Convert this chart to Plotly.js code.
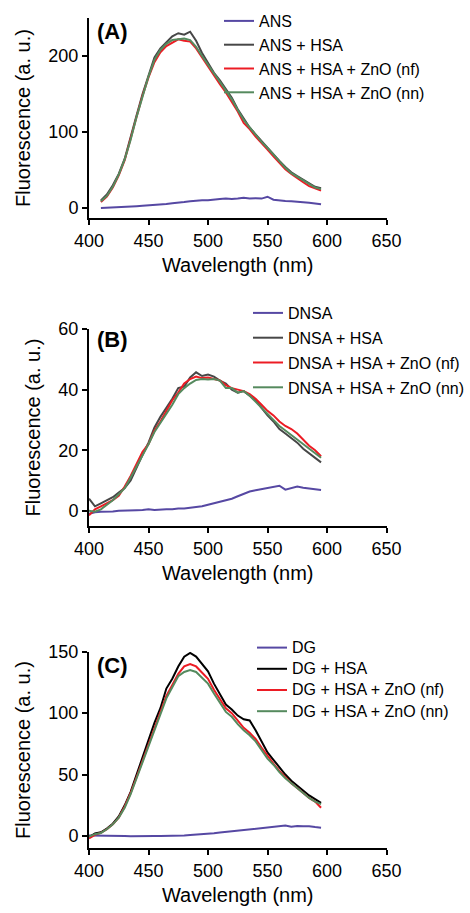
<!DOCTYPE html>
<html><head><meta charset="utf-8">
<script src="https://cdn.plot.ly/plotly-3.0.1.min.js"></script>
<style>html,body{margin:0;padding:0;background:#fff;}#chart{width:470px;height:913px;}</style>
</head><body><div id="chart"></div>
<script>
// Panel A: ANS (410-595 nm, 5 nm steps)
const wlA = [410,415,420,425,430,435,440,445,450,455,460,465,470,475,480,485,490,495,500,505,510,515,520,525,530,535,540,545,550,555,560,565,570,575,580,585,590,595];
const ans      = [0,0.3,0.5,1,1.5,2,2.5,3,3.5,4,4.5,5.5,6.5,7,8,9,10,10.5,10.5,11.5,12,12.5,12,12.5,13.5,12.5,13,12.5,15,11,10,9.5,9,8.5,7.5,7,6,5];
const ansHsa   = [10,18,30,45,65,92,122,150,175,198,210,218,226,230,228,232,220,204,190,178,168,156,145,130,118,106,97,88,80,71,62,54,47,42,37,32,28,26];
const ansHsaNf = [8,15,27,43,63,90,120,148,172,192,205,213,218,222,220,219,210,198,186,175,163,152,140,127,112,104,94,86,77,68,59,51,45,39,34,29,26,23];
const ansHsaNn = [9,16,28,44,64,90,120,148,173,195,208,216,221,222,223,221,212,200,188,177,166,154,143,129,116,106,96,87,79,70,61,53,46,41,36,31,27,25];

// Panel B: DNSA (400-595 nm)
const wlB = [400,405,410,415,420,425,430,435,440,445,450,455,460,465,470,475,480,485,490,495,500,505,510,515,520,525,530,535,540,545,550,555,560,565,570,575,580,585,590,595];
const dnsa      = [-1,-0.5,-0.3,-0.3,-0.2,0,0,0,0.2,0.3,0.5,0.3,0.5,0.5,0.5,0.8,0.8,1,1.2,1.5,2,2.5,3,3.5,4,4.8,5.5,6.4,6.8,7.2,7.5,8,8.3,7,7.5,8,7.6,7.4,7.2,6.9];
const dnsaHsa   = [4,1.5,2.5,3.5,4.5,6,7.5,10,14.5,18.5,22.5,27.5,31,34,37,40.5,41,44,45.7,44.5,45,44.3,43,42,40,39,39.5,38,36.5,34,31.5,29.5,27,25.5,24,22.5,20.5,19,17.5,16];
const dnsaHsaNf = [-1.5,0.5,1.5,2.5,3.5,5,8,11.5,15.5,19.5,22,26.5,29.5,33,36.5,39,42,43.5,44.3,43.8,44,43.5,43,41.5,40.5,40,39.5,38.5,37,35,33,31.5,29.5,28,27,25.5,23.5,21.5,20,18];
const dnsaHsaNn = [0,-0.3,0.5,2,3.5,5.5,7.5,11,14.5,18.5,22,26,29,32,35,38.5,40.5,42,43.2,43.5,43.3,43.5,43,40.5,40.5,39,39.5,38,36,34,32,30,28,26.5,25,23.5,22,20.5,19,17.5];

// Panel C: DG (400-595 nm)
const wlC = [400,405,410,415,420,425,430,435,440,445,450,455,460,465,470,475,480,485,490,495,500,505,510,515,520,525,530,535,540,545,550,555,560,565,570,575,580,585,590,595];
const dg      = [0.5,0.5,0.3,0.2,0,0,0,-0.2,0,0,0,0,0,0,0,0.3,0.5,0.8,1,1.5,1.8,2.2,2.8,3.3,4,4.5,5,5.5,6,6.5,7,7.5,7.8,8.5,7.5,8.2,8,8,7.3,6.8];
const dgHsa   = [-1,2,3,6,10,16,25,36,50,64,78,92,104,120,128,138,146,149,146,140,134,124,115,107,103,98,95,94,86,77,68,62,56,50,45,41,37,33,30,27];
const dgHsaNf = [-2,1,2.5,5.5,9.5,15,24,35,48,61,74,87,100,114,123,132,138,140,138,133,128,119,111,104,100,94,88,84,79,72,65,59,53,48,43,39,35,31,28,23];
const dgHsaNn = [-0.5,1.5,2.5,5.5,9.5,15,23,34,47,60,72,85,98,112,121,130,133.5,135,133.5,129,124,116,108,101,97,91,86,82,77,70,63,58,52,47,43,39,35,31,28,26];

const xTicks = [400,450,500,550,600,650];
const panelLabels = ['(A)','(B)','(C)'];

const purple = '#5648a3', gray = '#474747', black = '#000000', red = '#ec1c24', green = '#558a5e';
const FONT = 'Liberation Sans, Arial, sans-serif';

function tr(x, y, name, color, xa, ya, lg) {
  return {x: x, y: y, name: '<span style="font-size:16px">' + name + '</span>', type: 'scatter', mode: 'lines',
    line: {color: color, width: 2}, xaxis: xa, yaxis: ya, legend: lg, legendgroup: name + lg};
}

const data = [
  tr(wlA, ans, 'ANS', purple, 'x', 'y', 'legend'),
  tr(wlA, ansHsa, 'ANS + HSA', gray, 'x', 'y', 'legend'),
  tr(wlA, ansHsaNf, 'ANS + HSA + ZnO (nf)', red, 'x', 'y', 'legend'),
  tr(wlA, ansHsaNn, 'ANS + HSA + ZnO (nn)', green, 'x', 'y', 'legend'),
  tr(wlB, dnsa, 'DNSA', purple, 'x2', 'y2', 'legend2'),
  tr(wlB, dnsaHsa, 'DNSA + HSA', gray, 'x2', 'y2', 'legend2'),
  tr(wlB, dnsaHsaNf, 'DNSA + HSA + ZnO (nf)', red, 'x2', 'y2', 'legend2'),
  tr(wlB, dnsaHsaNn, 'DNSA + HSA + ZnO (nn)', green, 'x2', 'y2', 'legend2'),
  tr(wlC, dg, 'DG', purple, 'x3', 'y3', 'legend3'),
  tr(wlC, dgHsa, 'DG + HSA', black, 'x3', 'y3', 'legend3'),
  tr(wlC, dgHsaNf, 'DG + HSA + ZnO (nf)', red, 'x3', 'y3', 'legend3'),
  tr(wlC, dgHsaNn, 'DG + HSA + ZnO (nn)', green, 'x3', 'y3', 'legend3')
];

const H = 913, W = 470;
function ydom(topPx, botPx) { return [1 - botPx / H, 1 - topPx / H]; }
const xdom = [89 / W, 386.5 / W];

function xax(anchor) {
  return {domain: xdom, range: [400, 650], anchor: anchor, tickvals: xTicks,
    showline: true, linecolor: '#000', linewidth: 2, ticks: 'outside', ticklen: 5, tickwidth: 2, tickcolor: '#000',
    showgrid: false, zeroline: false, tickfont: {size: 18, color: '#000', family: FONT},
    title: {text: 'Wavelength (nm)', font: {size: 20, color: '#000', family: FONT}, standoff: 8}};
}
function yax(anchor, dom, range, ticks) {
  return {domain: dom, range: range, anchor: anchor, tickvals: ticks,
    showline: true, linecolor: '#000', linewidth: 2, ticks: 'outside', ticklen: 5, tickwidth: 2, tickcolor: '#000',
    showgrid: false, zeroline: false, tickfont: {size: 18, color: '#000', family: FONT},
    title: {text: 'Fluorescence (a. u.)', font: {size: 20, color: '#000', family: FONT}, standoff: 12}};
}
function leg(xpx, ypx, fs, gap) {
  return {x: xpx / W, y: 1 - ypx / H, xanchor: 'left', yanchor: 'top', bgcolor: 'rgba(0,0,0,0)',
    font: {size: fs, color: '#000', family: FONT}, tracegroupgap: gap, traceorder: 'grouped'};
}
function lab(i, ypx) {
  return {text: '<b>' + panelLabels[i] + '</b>', xref: 'paper', yref: 'paper', x: 95 / W, y: 1 - ypx / H,
    xanchor: 'left', yanchor: 'middle', showarrow: false, font: {size: 22, color: '#000', family: FONT}};
}

const layout = {
  width: W, height: H, margin: {l: 0, r: 0, t: 0, b: 0}, paper_bgcolor: '#fff', plot_bgcolor: '#fff',
  font: {family: FONT, color: '#000'}, showlegend: true,
  xaxis: xax('y'), yaxis: yax('x', ydom(18, 218), [-13, 250], [0, 100, 200]),
  xaxis2: xax('y2'), yaxis2: yax('x2', ydom(329, 526), [-5, 60], [0, 20, 40, 60]),
  xaxis3: xax('y3'), yaxis3: yax('x3', ydom(651.7, 848.3), [-10, 150], [0, 50, 100, 150]),
  legend: leg(219, 4, 16, 0), legend2: leg(248, 296, 16, 1), legend3: leg(252, 632, 14, 0),
  annotations: [lab(0, 32), lab(1, 340), lab(2, 665)]
};

Plotly.newPlot('chart', data, layout, {staticPlot: true, displayModeBar: false});
</script></body></html>
